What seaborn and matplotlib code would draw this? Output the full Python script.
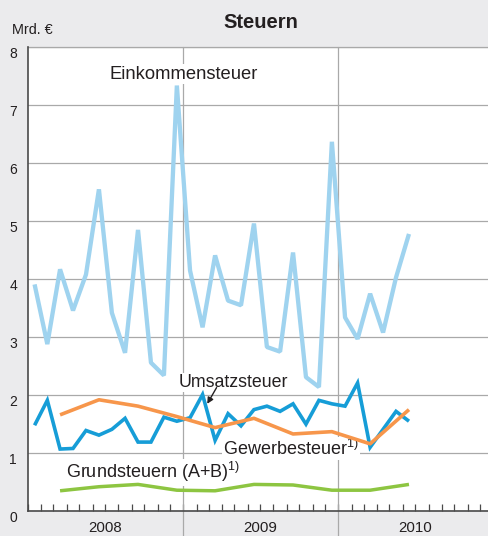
import numpy as np
import pandas as pd
import matplotlib
matplotlib.use('Agg')
import matplotlib.pyplot as plt
import matplotlib.dates as mdates
import seaborn as sns

# -----------------------------------------------------------------
# DATA (Mrd. EUR)
# -----------------------------------------------------------------
months = pd.period_range('2008-01', '2010-06', freq='M')
quarters = pd.period_range('2008Q1', '2010Q2', freq='Q')

einkommensteuer = [3.90, 2.87, 4.16, 3.45, 4.07, 5.54, 3.41, 2.72, 4.84, 2.55, 2.33, 7.33,
                   4.14, 3.16, 4.40, 3.62, 3.54, 4.95, 2.82, 2.74, 4.45, 2.30, 2.13, 6.36,
                   3.33, 2.96, 3.74, 3.07, 4.02, 4.77]
umsatzsteuer = [1.47, 1.90, 1.06, 1.07, 1.38, 1.30, 1.40, 1.59, 1.18, 1.18, 1.61, 1.54,
                1.60, 2.00, 1.21, 1.67, 1.46, 1.74, 1.80, 1.71, 1.84, 1.49, 1.90, 1.84,
                1.80, 2.20, 1.09, 1.40, 1.71, 1.54]
gewerbesteuer = [1.65, 1.91, 1.80, 1.62, 1.43, 1.59, 1.32, 1.36, 1.15, 1.74]
grundsteuern = [0.34, 0.41, 0.45, 0.35, 0.34, 0.45, 0.44, 0.35, 0.35, 0.45]

year_breaks = ['2009-01-01', '2010-01-01']
y_ticks = list(range(0, 9))

# monthly values sit in the middle of their month, quarterly values
# in the middle of the last month of the quarter
month_mid = months.start_time + (months.end_time - months.start_time) / 2
q_months = quarters.asfreq('M', how='end')
quarter_mid = q_months.start_time + (q_months.end_time - q_months.start_time) / 2

# -----------------------------------------------------------------
# STYLE
# -----------------------------------------------------------------
sns.set_theme(style='white')
plt.rcParams['font.family'] = ['Liberation Sans', 'DejaVu Sans']
plt.rcParams['mathtext.fontset'] = 'custom'
plt.rcParams['mathtext.rm'] = 'Liberation Sans'
plt.rcParams['mathtext.default'] = 'regular'

bg = '#ebebed'
grid_c = '#a9a9a9'
ink = '#231f20'
axis_c = '#4a4a4a'

fig = plt.figure(figsize=(4.89, 5.36), dpi=100, facecolor=bg)
ax = fig.add_axes([28 / 489, 25.5 / 536, 465.5 / 489, 463.8 / 536])
ax.set_facecolor('white')

# -----------------------------------------------------------------
# LINES
# -----------------------------------------------------------------
sns.lineplot(x=month_mid, y=einkommensteuer, ax=ax, color='#9fd3ef', lw=3.1, zorder=4,
             solid_joinstyle='bevel', solid_capstyle='butt')
sns.lineplot(x=month_mid, y=umsatzsteuer, ax=ax, color='#169dd7', lw=2.6, zorder=5,
             solid_joinstyle='miter', solid_capstyle='butt')
sns.lineplot(x=quarter_mid, y=gewerbesteuer, ax=ax, color='#f7964b', lw=2.6, zorder=6,
             solid_joinstyle='round', solid_capstyle='butt')
sns.lineplot(x=quarter_mid, y=grundsteuern, ax=ax, color='#8dc541', lw=2.5, zorder=6,
             solid_joinstyle='round', solid_capstyle='butt')

# -----------------------------------------------------------------
# AXES
# -----------------------------------------------------------------
ax.set_xlim(pd.Timestamp('2008-01-01'), pd.Timestamp('2011-01-01'))
ax.set_ylim(0, 8)
ax.set_xlabel('')
ax.set_ylabel('')

ax.set_yticks(y_ticks)
ax.yaxis.grid(True, color=grid_c, lw=0.9)
ax.xaxis.grid(False)
ax.set_axisbelow(True)
ax.tick_params(axis='y', left=False, length=0, pad=8, labelsize=10, labelcolor=ink)
plt.setp(ax.get_yticklabels(), va='top')

ax.xaxis.set_major_locator(mdates.MonthLocator(bymonth=7))
ax.xaxis.set_major_formatter(mdates.DateFormatter('%Y'))
ax.xaxis.set_minor_locator(mdates.MonthLocator())
ax.xaxis.remove_overlapping_locs = False
ax.tick_params(axis='x', which='major', bottom=True, length=0, pad=7.5, labelsize=10.8,
               labelcolor=ink)
ax.tick_params(axis='x', which='minor', bottom=True, direction='in', length=5.3, width=0.9,
               color=axis_c)

for side in ['left', 'bottom']:
    ax.spines[side].set_color(axis_c)
    ax.spines[side].set_linewidth(1.2)
    ax.spines[side].set_zorder(7)
ax.spines['top'].set_color(grid_c)
ax.spines['top'].set_linewidth(0.9)
ax.spines['right'].set_visible(False)

# year separators run down through the grey label band
for d in year_breaks:
    xd = mdates.date2num(pd.Timestamp(d))
    ax.plot([xd, xd], [-0.06, 1], transform=ax.get_xaxis_transform(), color=grid_c,
            lw=0.9, clip_on=False, zorder=1.5)

# -----------------------------------------------------------------
# LABELS
# -----------------------------------------------------------------
box = dict(fc='white', ec='none', pad=1)
ax.text(mdates.date2num(pd.Timestamp('2009-01-01')), 7.45, 'Einkommensteuer', ha='center',
        va='baseline', fontsize=13.2, color=ink, zorder=3, bbox=box)
ax.text(mdates.date2num(pd.Timestamp('2008-12-21')), 2.13, 'Umsatzsteuer', ha='left',
        va='baseline', fontsize=12.8, color=ink, zorder=3, bbox=box)
ax.annotate('', xy=(mdates.date2num(pd.Timestamp('2009-02-26')), 1.84),
            xytext=(mdates.date2num(pd.Timestamp('2009-03-20')), 2.12),
            arrowprops=dict(arrowstyle='-|>', color=ink, lw=1.0, mutation_scale=9,
                            shrinkA=0, shrinkB=0), zorder=8)
ax.text(mdates.date2num(pd.Timestamp('2009-04-04')), 0.96, r'Gewerbesteuer$^{1)}$',
        ha='left', va='baseline', fontsize=13, color=ink, zorder=3, bbox=box)
ax.text(mdates.date2num(pd.Timestamp('2008-03-31')), 0.555, r'Grundsteuern (A+B)$^{1)}$',
        ha='left', va='baseline', fontsize=13, color=ink, zorder=3, bbox=box)

fig.text(260.5 / 489, 1 - 27.7 / 536, 'Steuern', ha='center', va='baseline', fontsize=14.5,
         fontweight='bold', color=ink)
fig.text(12 / 489, 1 - 34.3 / 536, 'Mrd. €', ha='left', va='baseline', fontsize=10.4,
         color=ink)

fig.savefig('out.png', dpi=100, facecolor=bg)
